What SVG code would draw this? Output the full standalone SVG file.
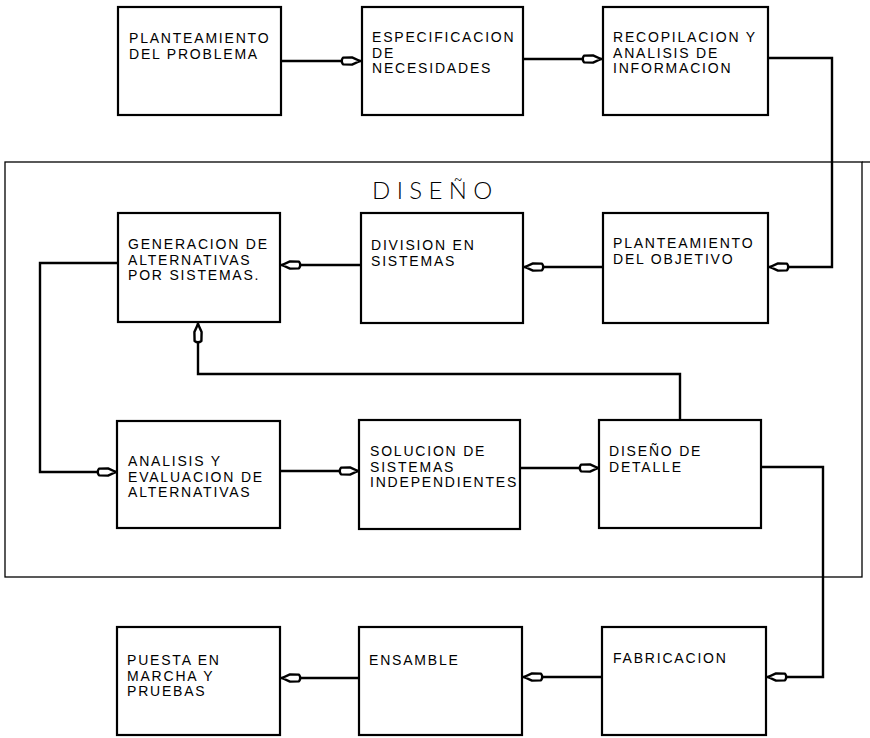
<svg xmlns="http://www.w3.org/2000/svg" width="870" height="738" viewBox="0 0 870 738">
<style>
.box{fill:#fff;stroke:#000;stroke-width:2.2}
.t{font-family:"Liberation Sans",Arial,sans-serif;font-size:14px;letter-spacing:1.8px;fill:#000}
.c{fill:none;stroke:#000;stroke-width:2.4;marker-end:url(#ah)}
.frame{fill:none;stroke:#000;stroke-width:1.3}
.title{font-family:"Lato Light","Liberation Sans",Arial,sans-serif;font-weight:300;font-size:24px;letter-spacing:6.4px;fill:#000}
</style>
<defs>
<marker id="ah" markerUnits="userSpaceOnUse" viewBox="-24 -7 26 14" markerWidth="26" markerHeight="14" refX="0" refY="0" orient="auto">
<path d="M-1,0 L-9,-3.6 L-18,-3.4 Q-20.5,0 -18,3.4 L-9,3.6 Z" fill="#fff" stroke="#000" stroke-width="2.4" stroke-linejoin="round"/>
</marker>
</defs>
<rect class="frame" x="5" y="162" width="857" height="415"/>
<line class="frame" x1="862" y1="162" x2="870" y2="162"/>
<text class="title" x="372" y="199">DISEÑO</text>
<g id="connectors">
<path class="c" d="M282,61 H361"/>
<path class="c" d="M523,59 H602"/>
<path class="c" d="M768,58 H832 V267 H769"/>
<path class="c" d="M603,267 H524"/>
<path class="c" d="M361,265 H281"/>
<path class="c" d="M118,263 H40 V472 H117"/>
<path class="c" d="M280,471 H359"/>
<path class="c" d="M520,468 H599"/>
<path class="c" d="M680,420 V374 H198 V323"/>
<path class="c" d="M761,467 H823 V677 H767"/>
<path class="c" d="M602,677 H523"/>
<path class="c" d="M359,678 H281"/>
</g>
<g id="n1"><rect class="box" x="118" y="7" width="163" height="108"/><text class="t" x="129" y="43">PLANTEAMIENTO</text><text class="t" x="129" y="58.5">DEL PROBLEMA</text></g>
<g id="n2"><rect class="box" x="362" y="7" width="161" height="108"/><text class="t" x="372" y="42">ESPECIFICACION</text><text class="t" x="372" y="57.5">DE</text><text class="t" x="372" y="73">NECESIDADES</text></g>
<g id="n3"><rect class="box" x="603" y="7" width="165" height="108"/><text class="t" x="613" y="42">RECOPILACION Y</text><text class="t" x="613" y="57.5">ANALISIS DE</text><text class="t" x="613" y="73">INFORMACION</text></g>
<g id="n4"><rect class="box" x="118" y="213" width="162" height="109"/><text class="t" x="128" y="249">GENERACION DE</text><text class="t" x="128" y="264.5">ALTERNATIVAS</text><text class="t" x="128" y="280">POR SISTEMAS.</text></g>
<g id="n5"><rect class="box" x="361" y="213" width="162" height="110"/><text class="t" x="371" y="250">DIVISION EN</text><text class="t" x="371" y="265.5">SISTEMAS</text></g>
<g id="n6"><rect class="box" x="603" y="213" width="165" height="110"/><text class="t" x="613" y="248">PLANTEAMIENTO</text><text class="t" x="613" y="263.5">DEL OBJETIVO</text></g>
<g id="n7"><rect class="box" x="117" y="421" width="163" height="107"/><text class="t" x="128" y="466">ANALISIS Y</text><text class="t" x="128" y="481.5">EVALUACION DE</text><text class="t" x="128" y="497">ALTERNATIVAS</text></g>
<g id="n8"><rect class="box" x="359" y="420" width="161" height="109"/><text class="t" x="370" y="456">SOLUCION DE</text><text class="t" x="370" y="471.5">SISTEMAS</text><text class="t" x="370" y="487">INDEPENDIENTES</text></g>
<g id="n9"><rect class="box" x="599" y="420" width="162" height="108"/><text class="t" x="609" y="456">DISEÑO DE</text><text class="t" x="609" y="471.5">DETALLE</text></g>
<g id="n10"><rect class="box" x="117" y="627" width="163" height="108"/><text class="t" x="127" y="665">PUESTA EN</text><text class="t" x="127" y="680.5">MARCHA Y</text><text class="t" x="127" y="696">PRUEBAS</text></g>
<g id="n11"><rect class="box" x="359" y="627" width="163" height="108"/><text class="t" x="369" y="665">ENSAMBLE</text></g>
<g id="n12"><rect class="box" x="602" y="627" width="164" height="108"/><text class="t" x="613" y="663">FABRICACION</text></g>
</svg>
